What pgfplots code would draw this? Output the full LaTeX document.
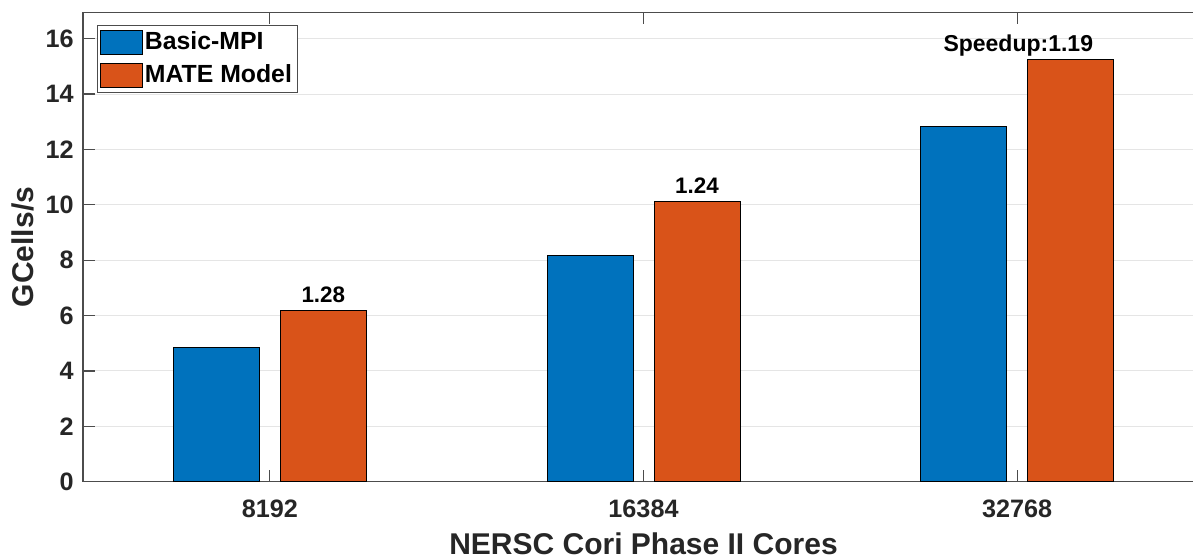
\documentclass[border=0pt]{standalone}
\usepackage{fontspec}
\setmainfont{Liberation Sans}
\usepackage{pgfplots}
\pgfplotsset{compat=1.18}
\definecolor{mblue}{HTML}{0072BD}
\definecolor{morange}{HTML}{D95319}
\begin{document}
\begin{tikzpicture}
\begin{axis}[
  at={(0,0)}, anchor=south west,
  scale only axis, width=560.5pt, height=234.7pt,
  xmin=0.5, xmax=3.5, ymin=0, ymax=16.95,
  ybar=10.5pt, bar width=43pt,
  xtick={1,2,3}, xticklabels={8192,16384,32768},
  ytick={0,2,...,16},
  tick align=inside, major tick length=6pt,
  xtick pos=both, ytick pos=left,
  ymajorgrids, grid style={gray!20, line width=0.5pt},
  axis line style={black!70, line width=0.6pt},
  tick style={black!70, line width=0.6pt},
  font=\bfseries,
  /pgf/number format/assume math mode=true,
  ticklabel style={font=\bfseries\fontsize{12.6}{15}\selectfont, text=black!85},
  xticklabel style={anchor=center, inner sep=0pt, yshift=-13.65pt},
  yticklabel style={anchor=east, inner sep=0pt, xshift=-4.5pt},
  xlabel={NERSC Cori Phase II Cores},
  ylabel={GCells/s},
  every axis x label/.style={at={(axis description cs:0.5,-0.1327)}, anchor=center, font=\bfseries\fontsize{15}{18}\selectfont, text=black!85},
  every axis y label/.style={at={(axis description cs:-0.054,0.5)}, rotate=90, anchor=center, font=\bfseries\fontsize{15}{18}\selectfont, text=black!85},
  legend style={at={(axis description cs:0.0122,0.973)}, anchor=north west, draw=black!70, line width=0.5pt,
    inner xsep=1.5pt, inner ysep=2pt, row sep=3.5pt,
    font=\bfseries\fontsize{12.4}{14}\selectfont,
    nodes={inner sep=1.2pt}},
  legend cell align=left,
  legend image code/.code={\draw[#1, draw=black, line width=0.5pt] (0pt,-6pt) rectangle (20.7pt,6pt);},
]
\addplot[fill=mblue, draw=black, line width=0.5pt] coordinates {(1,4.86) (2,8.18) (3,12.83)};
\addplot[fill=morange, draw=black, line width=0.5pt,
  point meta=explicit symbolic,
  nodes near coords={\ifdim\pgfplotspointmeta pt<1.2pt\fontsize{11.5}{13}\selectfont\llap{Speedup:}\pgfplotspointmeta\else\pgfplotspointmeta\fi},
  nodes near coords style={font=\bfseries\fontsize{11.2}{13}\selectfont, anchor=base, inner sep=0pt, yshift=4pt, text=black}
] coordinates {(1,6.20) [1.28] (2,10.13) [1.24] (3,15.26) [1.19]};
\legend{Basic-MPI, MATE Model}
\end{axis}
\pgfresetboundingbox
\useasboundingbox (-41.5pt,-38.65pt) rectangle (555pt,240.85pt);
\end{tikzpicture}
\end{document}
